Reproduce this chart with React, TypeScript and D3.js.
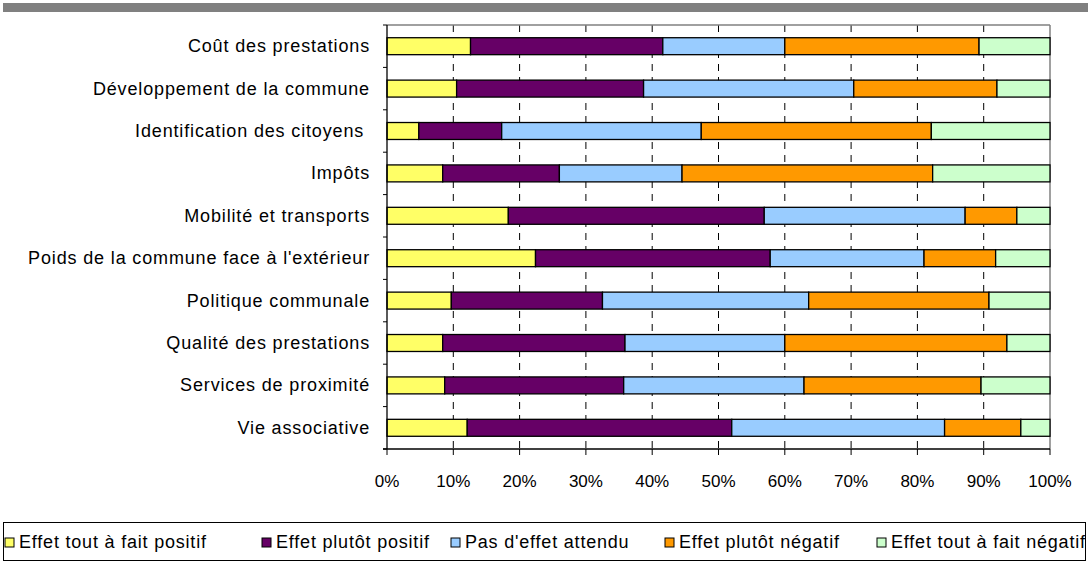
import React from "react";
import * as d3 from "d3";

const categories = [
  "Coût des prestations",
  "Développement de la commune",
  "Identification des citoyens ",
  "Impôts",
  "Mobilité et transports",
  "Poids de la commune face à l'extérieur",
  "Politique communale",
  "Qualité des prestations",
  "Services de proximité",
  "Vie associative",
];

const seriesNames = [
  "Effet tout à fait positif",
  "Effet plutôt positif",
  "Pas d'effet attendu",
  "Effet plutôt négatif",
  "Effet tout à fait négatif",
];

const seriesColors = ["#FFFF66", "#660066", "#99CCFF", "#FF9900", "#CCFFCC"];

const toutPositif = [12.6, 10.5, 4.8, 8.4, 18.3, 22.4, 9.7, 8.4, 8.7, 12.1];
const plutotPositif = [29.0, 28.2, 12.5, 17.6, 38.6, 35.4, 22.8, 27.5, 27.0, 39.9];
const pasEffet = [18.4, 31.7, 30.1, 18.5, 30.3, 23.2, 31.1, 24.1, 27.2, 32.1];
const plutotNegatif = [29.3, 21.6, 34.7, 37.8, 7.8, 10.8, 27.2, 33.5, 26.7, 11.5];
const toutNegatif = [10.7, 8.0, 17.9, 17.7, 5.0, 8.2, 9.2, 6.5, 10.4, 4.4];

const tickValues = [0, 0.1, 0.2, 0.3, 0.4, 0.5, 0.6, 0.7, 0.8, 0.9, 1];

const W = 1088;
const H = 569;
const FONT = "Arial, 'Liberation Sans', sans-serif";

export default function App() {
  const seriesValues = [toutPositif, plutotPositif, pasEffet, plutotNegatif, toutNegatif];
  const rows = categories.map((c, i) => {
    const o: any = { cat: c };
    seriesNames.forEach((s, j) => (o[s] = seriesValues[j][i]));
    return o;
  });
  const stack = d3.stack().keys(seriesNames).offset(d3.stackOffsetExpand);
  const stacked = stack(rows);

  const x = d3.scaleLinear().domain([0, 1]).range([387, 1050]);
  const y = d3.scaleBand().domain(categories).range([25, 449]).paddingInner(0.6).paddingOuter(0.3);
  const yb = d3.scaleBand().domain(categories).range([25, 449]);
  const fmt = d3.format(".0%");
  const legendX = [5, 262, 451, 665, 877];

  return (
    <svg width={W} height={H} style={{ position: "absolute", left: 0, top: 0, background: "#fff" }} fontFamily={FONT}>
      <rect x={3} y={3} width={W - 3} height={9} fill="#808080" />
      {/* gridlines */}
      {tickValues.slice(1, -1).map((t) => (
        <line key={t} x1={x(t)} x2={x(t)} y1={25} y2={449} stroke="#000" strokeWidth={1} strokeDasharray="7,6" />
      ))}
      {/* plot border top & right */}
      <line x1={387} x2={1050} y1={25} y2={25} stroke="#808080" strokeWidth={1.5} />
      <line x1={1050} x2={1050} y1={25} y2={449} stroke="#808080" strokeWidth={1.5} />
      {/* bars */}
      {stacked.map((s, j) =>
        s.map((d: any, i: number) => (
          <rect
            key={j + "-" + i}
            x={x(d[0])}
            y={y(categories[i])}
            width={x(d[1]) - x(d[0])}
            height={y.bandwidth()}
            fill={seriesColors[j]}
            stroke="#000"
            strokeWidth={1.3}
          />
        ))
      )}
      {/* y axis */}
      <line x1={387} x2={387} y1={25} y2={449} stroke="#000" strokeWidth={1.3} />
      {categories.map((c) => (
        <line key={c} x1={383} x2={387} y1={yb(c)!} y2={yb(c)!} stroke="#000" />
      ))}
      <line x1={383} x2={387} y1={449} y2={449} stroke="#000" />
      {categories.map((c) => (
        <text key={c} x={370} y={yb(c)! + yb.bandwidth() / 2} textAnchor="end" dominantBaseline="central" fontSize={18} letterSpacing={0.85} fill="#000" xmlSpace="preserve">
          {c}
        </text>
      ))}
      {/* x axis */}
      <line x1={383} x2={1050} y1={449} y2={449} stroke="#000" strokeWidth={1.3} />
      {tickValues.map((t) => (
        <g key={t}>
          <line x1={x(t)} x2={x(t)} y1={449} y2={455} stroke="#000" />
          <text x={x(t)} y={481} textAnchor="middle" dominantBaseline="central" fontSize={17} fill="#000">
            {fmt(t)}
          </text>
        </g>
      ))}
      {/* legend */}
      <rect x={3.5} y={522.5} width={1082} height={38} fill="#fff" stroke="#000" strokeWidth={1} />
      {seriesNames.map((s, j) => {
        const lx = legendX[j];
        return (
          <g key={s}>
            <rect x={lx} y={538} width={9} height={9} fill={seriesColors[j]} stroke="#000" strokeWidth={1} />
            <text x={lx + 14} y={542} dominantBaseline="central" fontSize={18} letterSpacing={0.8} fill="#000">
              {s}
            </text>
          </g>
        );
      })}
    </svg>
  );
}
